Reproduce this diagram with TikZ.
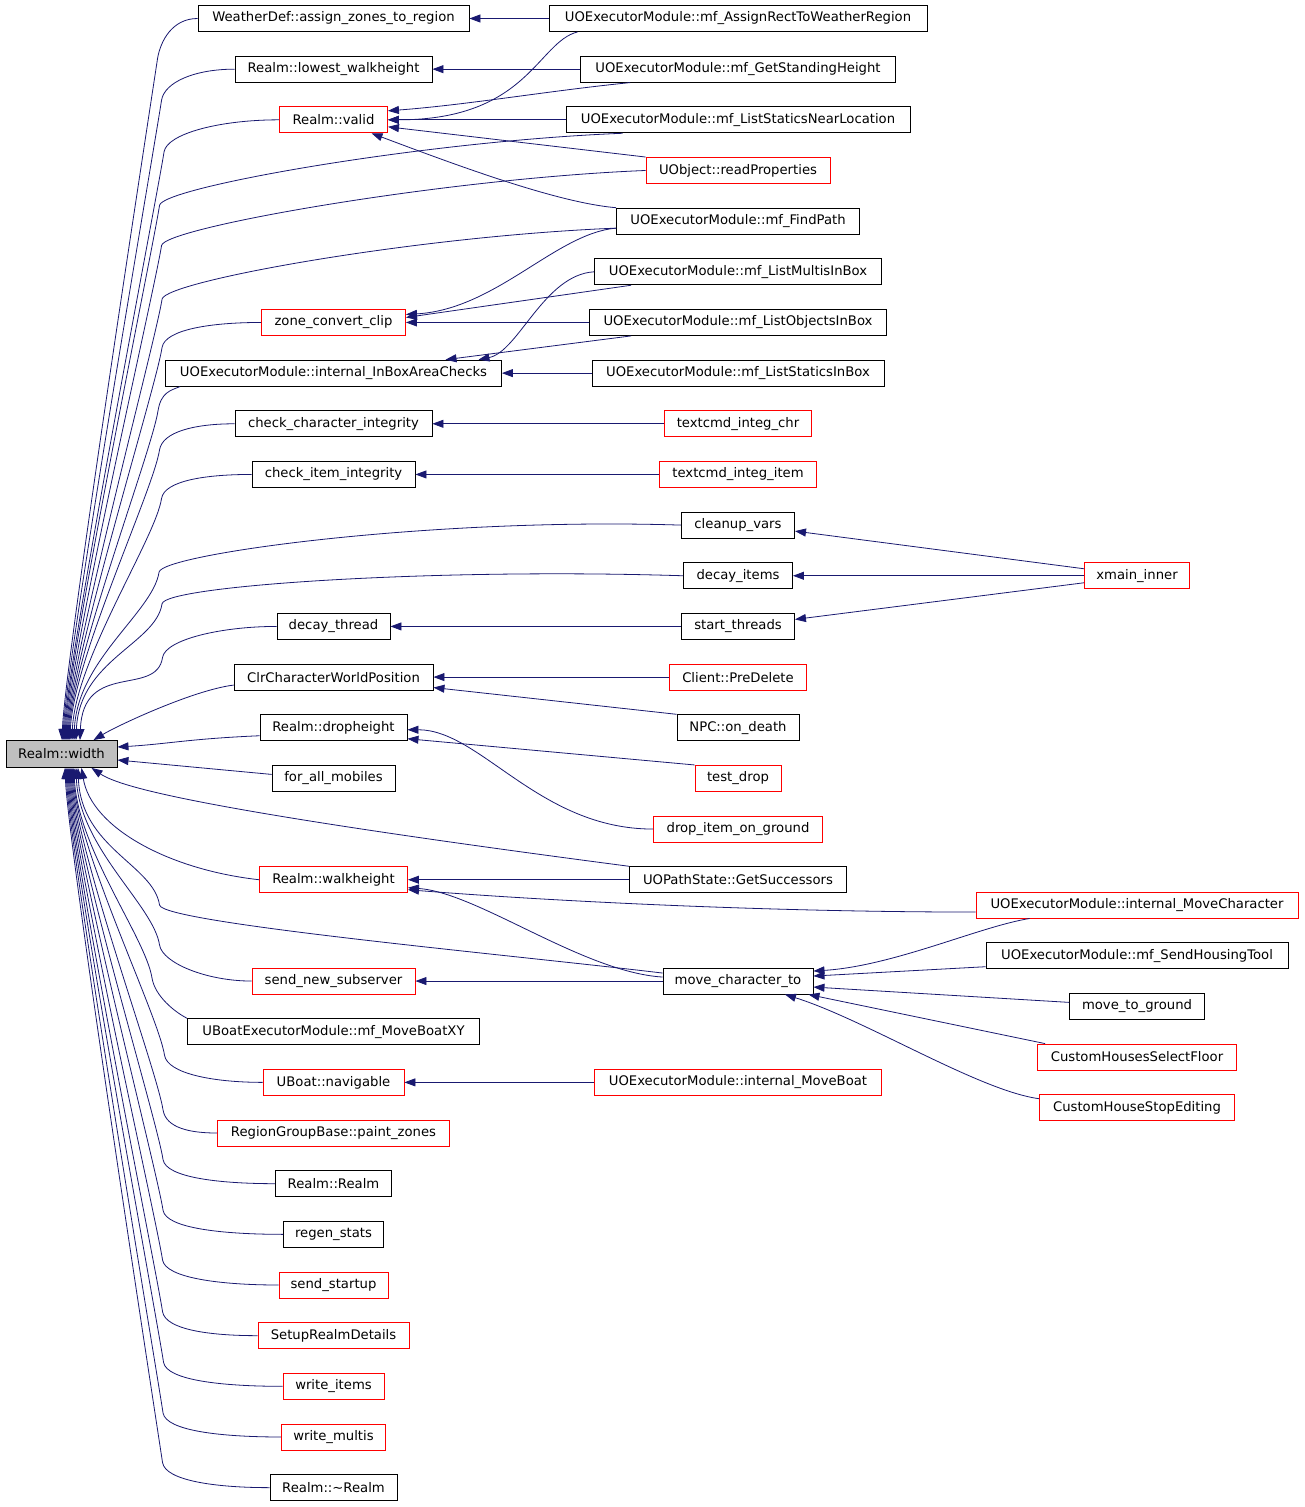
\documentclass[tikz,border=0pt]{standalone}
\usepackage{fontspec}
\setmainfont{DejaVu Sans}
\usetikzlibrary{arrows.meta}
\definecolor{edgeblue}{HTML}{191970}
\definecolor{rootgray}{HTML}{BFBFBF}

\begin{document}
\begin{tikzpicture}[x=1pt,y=-1pt,
		fn/.style={draw=black,fill=white,line width=0.9pt,inner sep=0pt,minimum height=26pt,
			font=\fontsize{13.2}{15}\selectfont},
		call/.style={draw=edgeblue,line width=0.8pt,-{Triangle[length=11pt,width=8pt]}}]
	\useasboundingbox (0,0) rectangle (1304,1507);
	\fill[white] (0,0) rectangle (1304,1507);

	% the function itself
	\node[fn,fill=rootgray,minimum width=111pt,minimum height=27pt] (width) at (61.5,754) {Realm::width};

	% direct callers
	\foreach \n/\txt/\w/\row/\col in {
			wdazr/WeatherDef::assign\_zones\_to\_region/271/0/black,
			rlw/Realm::lowest\_walkheight/197/1/black,
			rvalid/Realm::valid/108/2/red,
			zcc/zone\_convert\_clip/144/6/red,
			ibac/UOExecutorModule::internal\_InBoxAreaChecks/336/7/black,
			cci/check\_character\_integrity/197/8/black,
			cii/check\_item\_integrity/163/9/black,
			dthr/decay\_thread/113/12/black,
			ccwp/ClrCharacterWorldPosition/199/13/black,
			rdrop/Realm::dropheight/147/14/black,
			fam/for\_all\_mobiles/123/15/black,
			rwalk/Realm::walkheight/148/17/red,
			sns/send\_new\_subserver/163/19/red,
			ubmb/UBoatExecutorModule::mf\_MoveBoatXY/292/20/black,
			unav/UBoat::navigable/141/21/red,
			rgbpz/RegionGroupBase::paint\_zones/232/22/red,
			rrealm/Realm::Realm/116/23/black,
			regen/regen\_stats/100/24/black,
			sstart/send\_startup/109/25/red,
			setup/SetupRealmDetails/151/26/red,
			witems/write\_items/101/27/red,
			wmultis/write\_multis/104/28/red,
			rdtor/Realm::\textasciitilde{}Realm/127/29/black}
		\node[fn,draw=\col,minimum width=\w pt] (\n) at (333.5,{18.5+50.66*\row}) {\txt};

	% second level
	\foreach \n/\txt/\w/\row/\col in {
			mfar/UOExecutorModule::mf\_AssignRectToWeatherRegion/378/0/black,
			mgsh/UOExecutorModule::mf\_GetStandingHeight/315/1/black,
			snl/UOExecutorModule::mf\_ListStaticsNearLocation/344/2/black,
			rp/UObject::readProperties/184/3/red,
			fp/UOExecutorModule::mf\_FindPath/243/4/black,
			mlmb/UOExecutorModule::mf\_ListMultisInBox/287/5/black,
			mlob/UOExecutorModule::mf\_ListObjectsInBox/297/6/black,
			mlsb/UOExecutorModule::mf\_ListStaticsInBox/292/7/black,
			tich/textcmd\_integ\_chr/147/8/red,
			tii/textcmd\_integ\_item/157/9/red,
			cv/cleanup\_vars/113/10/black,
			di/decay\_items/109/11/black,
			st/start\_threads/113/12/black,
			cpd/Client::PreDelete/137/13/red,
			npc/NPC::on\_death/122/14/black,
			td/test\_drop/86/15/red,
			dig/drop\_item\_on\_ground/169/16/red,
			ups/UOPathState::GetSuccessors/217/17/black,
			mct/move\_character\_to/150/19/black,
			imb/UOExecutorModule::internal\_MoveBoat/287/21/red}
		\node[fn,draw=\col,minimum width=\w pt] (\n) at (738,{18.5+50.66*\row}) {\txt};

	% third level
	\foreach \n/\txt/\w/\row/\col in {
			xmi/xmain\_inner/105/11/red,
			imc/UOExecutorModule::internal\_MoveCharacter/322/17.5/red,
			msht/UOExecutorModule::mf\_SendHousingTool/302/18.5/black,
			mtg/move\_to\_ground/135/19.5/black,
			chsf/CustomHousesSelectFloor/199/20.5/red,
			chse/CustomHouseStopEditing/195/21.5/red}
		\node[fn,draw=\col,minimum width=\w pt] (\n) at (1137,{18.5+50.66*\row}) {\txt};

	% calls into Realm::width from above
	\foreach \s/\ax/\ay/\kx/\ky/\tx in {
			wdazr/-25/0/-40/40/0.5, rlw/-40/0/-73/31/1.5, rvalid/-60/0/-115/32/2.5,
			rp/-200/8/-484/75/4.5, zcc/-50/0/-99/25/6.5, cci/-40/0/-75/26/8.5,
			cii/-45/0/-90/24/10.5, cv/-250/-8/-522/47/12.5, di/-250/-8/-521/28/14.5,
			dthr/-55/0/-114/31/18.5}
		\draw[call] (\s.west) .. controls +(\ax,\ay) and +(3,-18) .. ++(\kx,\ky)
			.. controls +(-6,40) and +(3,-80) .. ([xshift=\tx pt]width.north);
	\draw[call] ([xshift=57pt]snl.south west) .. controls +(-200,8) and +(3,-18) .. ++(-463,72)
		.. controls +(-6,40) and +(3,-80) .. ([xshift=3.5pt]width.north);
	\draw[call] ([yshift=-7pt]fp.west) .. controls +(-200,8) and +(3,-18) .. ++(-454,71)
		.. controls +(-6,40) and +(3,-80) .. ([xshift=5.5pt]width.north);
	\draw[call] ([xshift=15pt]ibac.south west) .. controls +(-10,4) and +(3,-18) .. ++(-22,24)
		.. controls +(-6,40) and +(3,-80) .. ([xshift=7.5pt]width.north);
	\draw[call] ([yshift=-8pt]ccwp.west) .. controls +(-40,5) and +(25,-15) .. ([xshift=32pt]width.north);
	\draw[call] ([yshift=-8pt]rdrop.west) .. controls +(-70,3) and +(50,-3) .. ([yshift=7pt]width.east);
	\draw[call] ([yshift=4pt]fam.west) -- ([yshift=-6pt]width.east);

	% calls into Realm::width from below
	\foreach \s/\ax/\ay/\kx/\ky/\tx in {
			sns/-45/0/-92/-36/14.5, unav/-50/0/-98/-27/11.5, rgbpz/-27/0/-54/-23/10.5,
			rrealm/-55/0/-112/-24/9.5, regen/-60/0/-120/-24/8.5, sstart/-58/0/-116/-25/7.5,
			setup/-48/0/-95/-24/6.5, witems/-60/0/-119/-24/5.5, wmultis/-59/0/-118/-24/4.5,
			rdtor/-54/0/-107/-25/3.5}
		\draw[call] (\s.west) .. controls +(\ax,\ay) and +(3,18) .. ++(\kx,\ky)
			.. controls +(-6,-40) and +(3,80) .. ([xshift=\tx pt]width.south);
	\draw[call] ([yshift=8pt]mct.west) .. controls +(-150,-18) and +(3,18) .. ++(-503,-68)
		.. controls +(-6,-40) and +(3,80) .. ([xshift=16.5pt]width.south);
	\draw[call] (ubmb.north west) .. controls +(-12,-6) and +(3,18) .. ++(-35,-40)
		.. controls +(-6,-40) and +(3,80) .. ([xshift=12.5pt]width.south);
	\draw[call] (ups.north west) .. controls +(-420,-55) and +(30,20) .. ([xshift=30pt]width.south);
	\draw[call] (rwalk.west) .. controls +(-90,-10) and +(10,60) .. ([xshift=20pt]width.south);

	% calls on the same row
	\foreach \a/\b in {mfar/wdazr, mgsh/rlw, snl/rvalid, mlob/zcc, mlsb/ibac, tich/cci, tii/cii,
			xmi/di, st/dthr, cpd/ccwp, ups/rwalk, mct/sns, imb/unav}
		\draw[call] (\a.west) -- (\b.east);

	% the rest
	\draw[call] ([xshift=29pt]mfar.south west) .. controls +(-40,10) and +(140,0) .. (rvalid.east);
	\draw[call] ([xshift=50pt]mgsh.south west) .. controls +(-80,8) and +(80,-6) .. ([yshift=9pt]rvalid.east);
	\draw[call] (rp.north west) -- ([yshift=-7pt]rvalid.east);
	\draw[call] (fp.north west) .. controls +(-60,-5) and +(80,30) .. ([xshift=38pt]rvalid.south);
	\draw[call] ([yshift=-7pt]fp.west) .. controls +(-60,5) and +(90,-5) .. ([yshift=8pt]zcc.east);
	\draw[call] ([xshift=37pt]mlmb.south west) -- ([yshift=5pt]zcc.east);
	\draw[call] (mlmb.west) .. controls +(-50,3) and +(40,-8) .. ([xshift=145pt]ibac.north);
	\draw[call] ([xshift=42pt]mlob.south west) -- ([xshift=112pt]ibac.north);
	\draw[call] ([yshift=7pt]xmi.west) -- ([yshift=-6pt]cv.east);
	\draw[call] ([yshift=-7pt]xmi.west) -- ([yshift=7pt]st.east);
	\draw[call] (npc.north west) -- ([yshift=3pt]ccwp.south east);
	\draw[call] (td.north west) -- ([yshift=-11pt]rdrop.east);
	\draw[call] (dig.west) .. controls +(-114,0) and +(73,0) .. ([yshift=-2pt]rdrop.east);
	\draw[call] ([yshift=4pt]mct.west) .. controls +(-80,-5) and +(70,5) .. ([yshift=-8pt]rwalk.east);
	\draw[call] ([yshift=-7pt]imc.west) .. controls +(-200,0) and +(150,12) .. ([yshift=-10pt]rwalk.east);
	\draw[call] ([xshift=54pt]imc.south west) .. controls +(-50,8) and +(80,-5) .. ([yshift=10pt]mct.east);
	\draw[call] ([yshift=-11pt]msht.west) -- ([yshift=5pt]mct.east);
	\draw[call] ([yshift=4pt]mtg.west) -- ([yshift=-6pt]mct.east);
	\draw[call] ([xshift=8pt]chsf.north west) -- ([xshift=-5pt]mct.south east);
	\draw[call] ([yshift=9pt]chse.west) .. controls +(-60,-8) and +(80,25) .. ([xshift=47pt]mct.south);
\end{tikzpicture}
\end{document}
